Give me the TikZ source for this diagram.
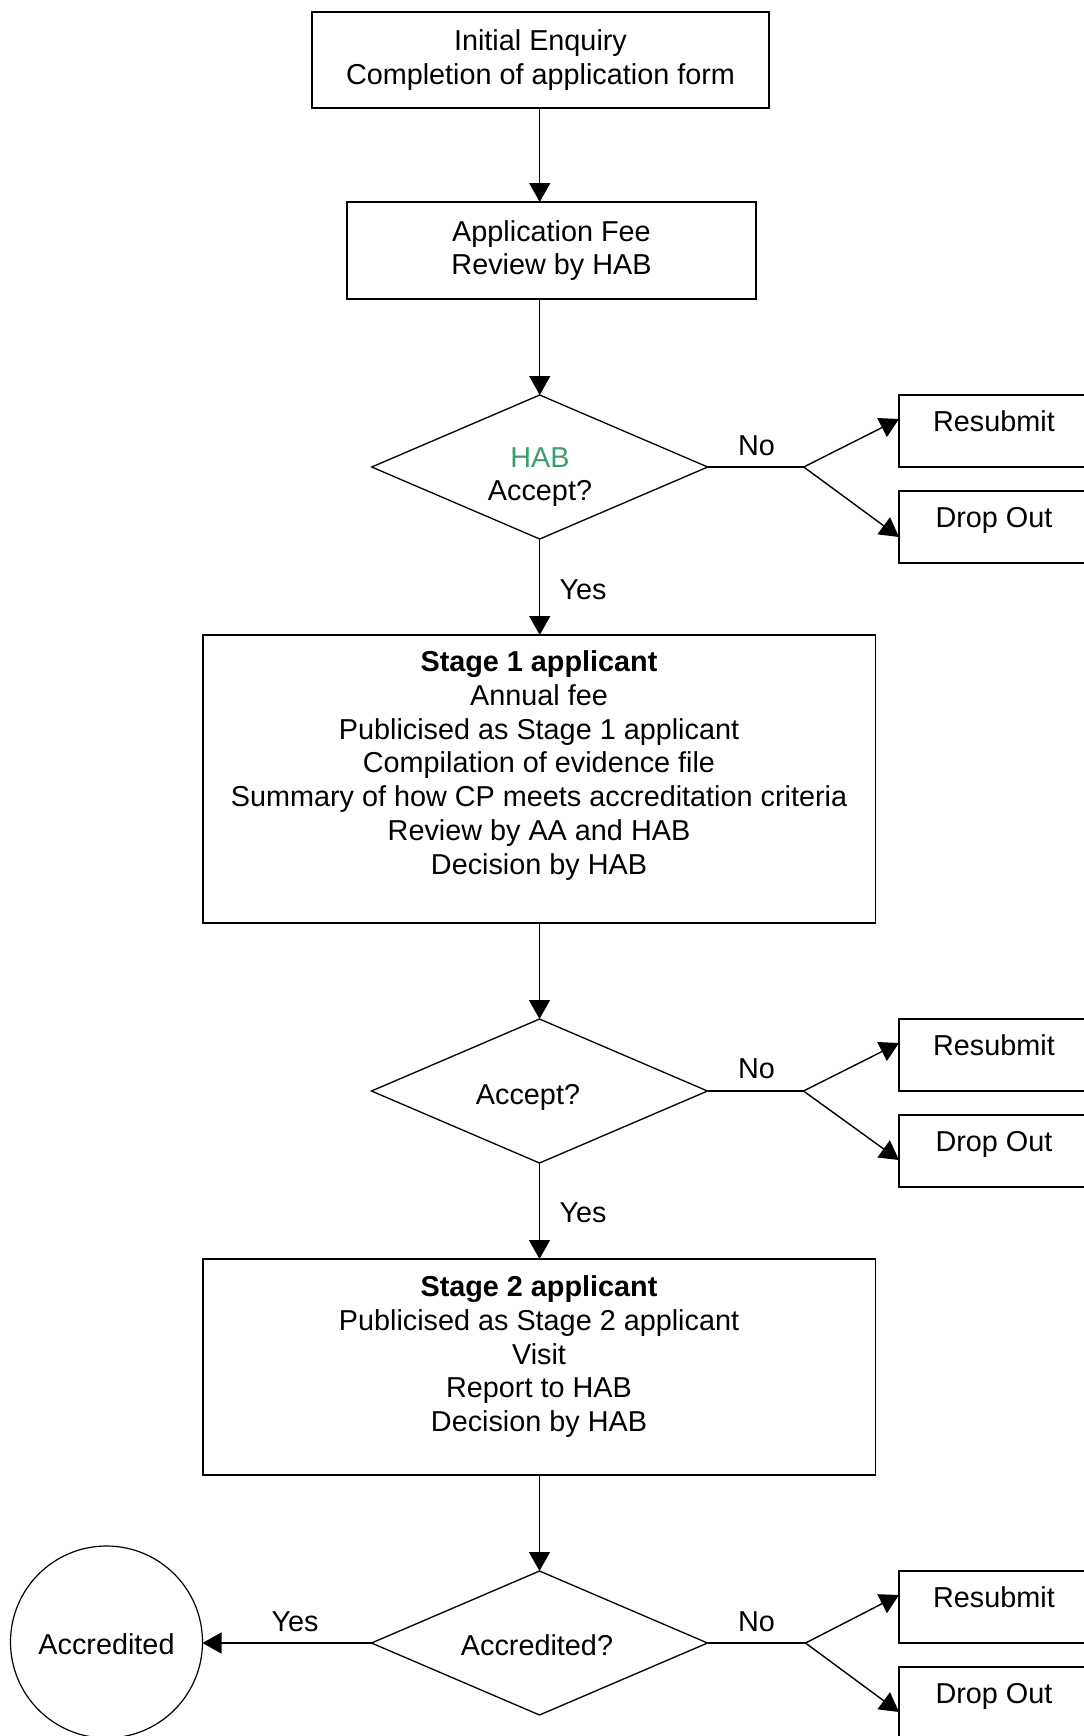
\documentclass[tikz,border=0pt]{standalone}
\usepackage{fontspec}
\setmainfont{Liberation Sans}
\usetikzlibrary{shapes.geometric,arrows.meta,calc}
\definecolor{habgreen}{RGB}{58,158,106}
\begin{document}
\begin{tikzpicture}[x=0.5pt,y=-0.5pt,
  every node/.style={inner sep=0pt, outer sep=0pt},
  font=\fontsize{14.4pt}{16.85pt}\selectfont,
  box/.style={draw, line width=0.75pt, rectangle},
  sidebox/.style={box, minimum width=95pt, minimum height=36pt},
  decision/.style={draw, line width=0.65pt, diamond, minimum width=168pt, minimum height=72pt},
  endstate/.style={draw, line width=0.6pt, circle, minimum size=96pt},
  txt/.style={align=center, anchor=north},
  lbl/.style={anchor=base},
  link/.style={line width=0.7pt},
  flow/.style={link, -{Triangle[length=9.5pt,width=10.5pt]}},
]
\useasboundingbox (0,0) rectangle (1083,1736);

% main column
\node[box, minimum width=228.5pt, minimum height=48pt, align=center] (enq) at (540.5,60)
  {Initial Enquiry\\Completion of application form};
\node[box, minimum width=204.5pt, minimum height=48.5pt, align=center] (fee) at (551.5,250.5)
  {Application Fee\\Review by HAB};

\node[decision] (dm1) at (539.75,467) {};
\node[txt] (dm1t) at (540,447.3) {\textcolor{habgreen}{HAB}\\Accept?};

\node[box, minimum width=336.3pt, minimum height=144pt] (st1) at (539.3,779) {};
\node[txt] (st1t) at (539,651)
  {\textbf{Stage 1 applicant}\\Annual fee\\Publicised as Stage 1 applicant\\
   Compilation of evidence file\\Summary of how CP meets accreditation criteria\\
   Review by AA and HAB\\Decision by HAB};

\node[decision] (dm2) at (539.5,1091) {};
\node[lbl] (dm2t) at (528,1104) {Accept?};

\node[box, minimum width=336.3pt, minimum height=108pt] (st2) at (539.3,1367) {};
\node[txt] (st2t) at (539,1276)
  {\textbf{Stage 2 applicant}\\Publicised as Stage 2 applicant\\Visit\\
   Report to HAB\\Decision by HAB};

\node[decision] (dm3) at (539.5,1643) {};
\node[lbl] (dm3t) at (537,1655) {Accredited?};

\node[endstate] (acc) at (106.5,1642) {};
\node[lbl] (acct) at (106.5,1654) {Accredited};

% side outcomes
\node[sidebox] (res1) at (994,431) {};
\node[lbl] (res1t) at (res1.center) {Resubmit};
\node[sidebox] (drop1) at (994,527) {};
\node[lbl] (drop1t) at (drop1.center) {Drop Out};
\node[sidebox] (res2) at (994,1055) {};
\node[lbl] (res2t) at (res2.center) {Resubmit};
\node[sidebox] (drop2) at (994,1151) {};
\node[lbl] (drop2t) at (drop2.center) {Drop Out};
\node[sidebox] (res3) at (994,1607) {};
\node[lbl] (res3t) at (res3.center) {Resubmit};
\node[sidebox] (drop3) at (994,1703) {};
\node[lbl] (drop3t) at (drop3.center) {Drop Out};

% branch labels
\node[lbl] (no1) at (756.5,455) {No};
\node[lbl] (yes1) at (583,599) {Yes};
\node[lbl] (no2) at (756.5,1078) {No};
\node[lbl] (yes2) at (583,1222) {Yes};
\node[lbl] (no3) at (756.5,1631) {No};
\node[lbl] (yes3) at (295,1631) {Yes};

% main flow
\draw[flow] (dm1.north |- enq.south) -- (dm1.north |- fee.north);
\draw[flow] (dm1.north |- fee.south) -- (dm1.north);
\draw[flow] (dm1.south) -- (dm1.south |- st1.north);
\draw[flow] (dm2.north |- st1.south) -- (dm2.north);
\draw[flow] (dm2.south) -- (dm2.south |- st2.north);
\draw[flow] (dm3.north |- st2.south) -- (dm3.north);
\draw[flow] (dm3.west) -- (acc.east |- dm3.west);

% "No" branches
\coordinate (j1) at ($(dm1.east)+(96,0)$);
\coordinate (j2) at ($(dm2.east)+(96,0)$);
\coordinate (j3) at ($(dm3.east)+(98,0)$);
\draw[link] (dm1.east) -- (j1);
\draw[flow] (j1) -- ($(res1.west)+(0,-12)$);
\draw[flow] (j1) -- ($(drop1.west)+(0,10)$);
\draw[link] (dm2.east) -- (j2);
\draw[flow] (j2) -- ($(res2.west)+(0,-12)$);
\draw[flow] (j2) -- ($(drop2.west)+(0,9)$);
\draw[link] (dm3.east) -- (j3);
\draw[flow] (j3) -- ($(res3.west)+(0,-12)$);
\draw[flow] (j3) -- ($(drop3.west)+(0,9)$);
\end{tikzpicture}
\end{document}
